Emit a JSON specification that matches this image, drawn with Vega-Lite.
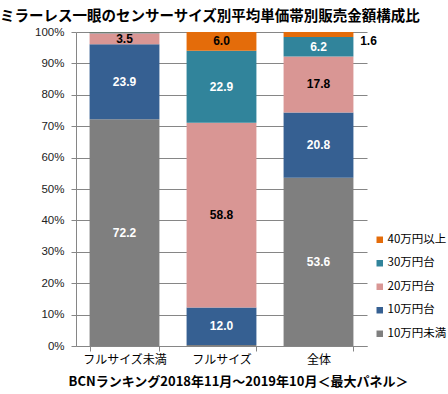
{
  "$schema": "https://vega.github.io/schema/vega-lite/v6.json",
  "width": 291,
  "height": 314,
  "autosize": {"type": "none"},
  "padding": {"left": 76, "top": 32, "right": 81, "bottom": 48},
  "background": "white",
  "title": {
    "text": "ミラーレス一眼のセンサーサイズ別平均単価帯別販売金額構成比",
    "anchor": "start",
    "frame": "group",
    "dx": -76,
    "offset": 2,
    "fontSize": 14.5,
    "fontWeight": "bold",
    "font": "Noto Sans CJK JP",
    "color": "black"
  },
  "config": {"view": {"stroke": null}, "legend": {"padding": 0}},
  "data": {
    "values": [
      {"cat": "フルサイズ未満", "seg": "10万円未満", "ord": 1, "value": 72.2},
      {"cat": "フルサイズ未満", "seg": "10万円台", "ord": 2, "value": 23.9},
      {"cat": "フルサイズ未満", "seg": "20万円台", "ord": 3, "value": 3.5},
      {"cat": "フルサイズ未満", "seg": "30万円台", "ord": 4, "value": 0.3},
      {"cat": "フルサイズ未満", "seg": "40万円以上", "ord": 5, "value": 0.1},
      {"cat": "フルサイズ", "seg": "10万円未満", "ord": 1, "value": 0.3},
      {"cat": "フルサイズ", "seg": "10万円台", "ord": 2, "value": 12.0},
      {"cat": "フルサイズ", "seg": "20万円台", "ord": 3, "value": 58.8},
      {"cat": "フルサイズ", "seg": "30万円台", "ord": 4, "value": 22.9},
      {"cat": "フルサイズ", "seg": "40万円以上", "ord": 5, "value": 6.0},
      {"cat": "全体", "seg": "10万円未満", "ord": 1, "value": 53.6},
      {"cat": "全体", "seg": "10万円台", "ord": 2, "value": 20.8},
      {"cat": "全体", "seg": "20万円台", "ord": 3, "value": 17.8},
      {"cat": "全体", "seg": "30万円台", "ord": 4, "value": 6.2},
      {"cat": "全体", "seg": "40万円以上", "ord": 5, "value": 1.6}
    ]
  },
  "encoding": {
    "x": {
      "field": "cat",
      "type": "nominal",
      "sort": ["フルサイズ未満", "フルサイズ", "全体"],
      "scale": {"paddingInner": 0.28, "paddingOuter": 0.14},
      "title": "BCNランキング2018年11月～2019年10月＜最大パネル＞",
      "axis": {
        "tickBand": "extent",
        "labelAngle": 0,
        "domainColor": "#868686",
        "tickColor": "#868686",
        "tickSize": 5,
        "labelFontSize": 12,
        "labelFont": "Noto Sans CJK JP",
        "labelColor": "black",
        "labelPadding": 3,
        "titleFontSize": 13,
        "titleFontWeight": "bold",
        "titleFont": "Noto Sans CJK JP",
        "titleColor": "black",
        "titleX": 162,
        "titleY": 35,
        "titleBaseline": "middle",
        "grid": false
      }
    },
    "y": {
      "field": "value",
      "type": "quantitative",
      "stack": "zero",
      "scale": {"domain": [0, 100], "nice": false},
      "axis": {
        "values": [0, 10, 20, 30, 40, 50, 60, 70, 80, 90, 100],
        "labelExpr": "datum.value + '%'",
        "grid": true,
        "gridColor": "#868686",
        "domainColor": "#868686",
        "tickColor": "#868686",
        "tickSize": 5,
        "labelFontSize": 11.5,
        "labelFont": "Liberation Sans",
        "labelColor": "#222222",
        "labelPadding": 7,
        "title": null
      }
    },
    "order": {"field": "ord", "type": "quantitative"}
  },
  "layer": [
    {
      "mark": {"type": "bar"},
      "encoding": {
        "color": {
          "field": "seg",
          "type": "nominal",
          "scale": {
            "domain": ["40万円以上", "30万円台", "20万円台", "10万円台", "10万円未満"],
            "range": ["#E46C0A", "#31849B", "#D99694", "#366092", "#7F7F7F"]
          },
          "legend": {
            "orient": "none",
            "legendX": 298,
            "legendY": 202,
            "title": null,
            "symbolType": "square",
            "symbolSize": 42,
            "symbolStrokeWidth": 0,
            "labelFontSize": 11.5,
            "labelFont": "Noto Sans CJK JP",
            "labelColor": "black",
            "labelOffset": 2,
            "rowPadding": 10.5
          }
        }
      }
    },
    {
      "mark": {"type": "text", "font": "Liberation Sans", "fontWeight": "bold", "fontSize": 12},
      "encoding": {
        "y": {"field": "value", "type": "quantitative", "stack": "zero", "bandPosition": 0.5},
        "detail": {"field": "seg"},
        "text": {"condition": {"test": "datum.value >= 3", "field": "value", "format": ".1f"}, "value": ""},
        "color": {"condition": {"test": "datum.seg === '20万円台' || datum.seg === '40万円以上'", "value": "black"}, "value": "white"}
      }
    },
    {
      "mark": {"type": "text", "font": "Liberation Sans", "fontWeight": "bold", "fontSize": 12, "dx": 50, "dy": 6, "color": "black"},
      "encoding": {
        "y": {"field": "value", "type": "quantitative", "stack": "zero", "bandPosition": 0.5},
        "detail": {"field": "seg"},
        "text": {"condition": {"test": "datum.cat === '全体' && datum.seg === '40万円以上'", "field": "value", "format": ".1f"}, "value": ""}
      }
    }
  ]
}
